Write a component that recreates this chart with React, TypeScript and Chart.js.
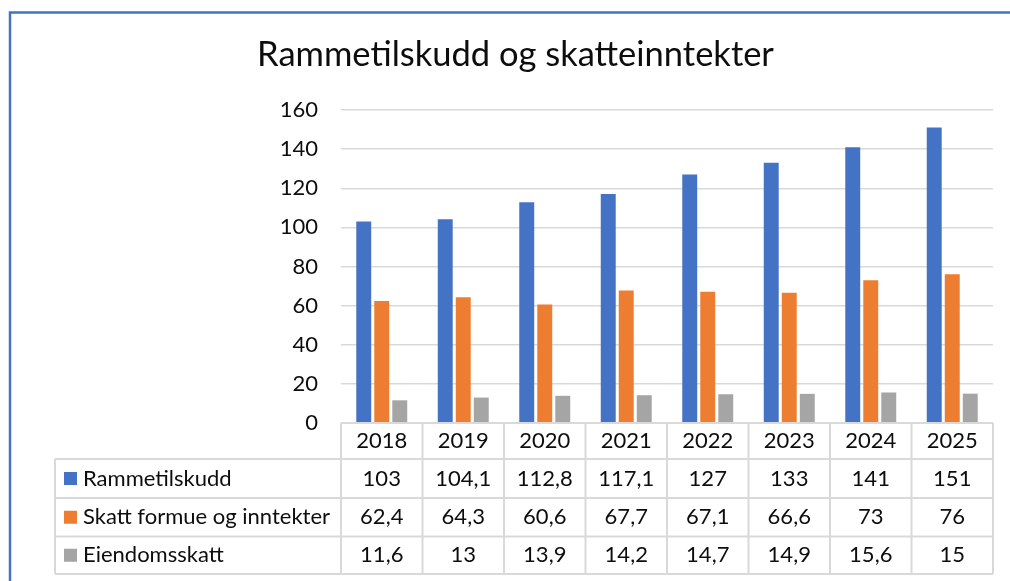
import { useEffect, useRef } from "react";
import { Chart, registerables } from "chart.js";

Chart.register(...registerables);

const years = ["2018", "2019", "2020", "2021", "2022", "2023", "2024", "2025"];
const rammetilskudd = [103, 104.1, 112.8, 117.1, 127, 133, 141, 151];
const skattFormue = [62.4, 64.3, 60.6, 67.7, 67.1, 66.6, 73, 76];
const eiendomsskatt = [11.6, 13, 13.9, 14.2, 14.7, 14.9, 15.6, 15];
const seriesNames = ["Rammetilskudd", "Skatt formue og inntekter", "Eiendomsskatt"];
const seriesColors = ["#4472C4", "#ED7D31", "#A5A5A5"];
const titleText = "Rammetilskudd og skatteinntekter";

const FONT = "Lato, 'Noto Sans', sans-serif";
const TEXT_COLOR = "#0d0d0d";
const LINE_COLOR = "#D9D9D9";

const fmt = (v: number) => String(v).replace(".", ",");

const tablePlugin = {
  id: "dataTable",
  afterDraw(chart: any) {
    const ctx = chart.ctx as CanvasRenderingContext2D;
    const xs = chart.scales.x;
    const area = chart.chartArea;
    const n = years.length;
    const step = (area.right - area.left) / n;
    const legendLeft = 55;
    const rowEdges = [area.bottom, area.bottom + 36, area.bottom + 75, area.bottom + 113.5, area.bottom + 151];
    const allSeries = [rammetilskudd, skattFormue, eiendomsskatt];

    ctx.save();
    ctx.strokeStyle = LINE_COLOR;
    ctx.lineWidth = 2;
    ctx.beginPath();
    ctx.moveTo(area.left, rowEdges[0]);
    ctx.lineTo(area.right, rowEdges[0]);
    for (let r = 1; r < rowEdges.length; r++) {
      ctx.moveTo(legendLeft, rowEdges[r]);
      ctx.lineTo(area.right, rowEdges[r]);
    }
    ctx.moveTo(legendLeft, rowEdges[1]);
    ctx.lineTo(legendLeft, rowEdges[4]);
    for (let i = 0; i <= n; i++) {
      const x = i < n ? xs.getPixelForValue(i) - step / 2 : xs.getPixelForValue(n - 1) + step / 2;
      ctx.moveTo(x, rowEdges[0]);
      ctx.lineTo(x, rowEdges[4]);
    }
    ctx.stroke();

    ctx.fillStyle = TEXT_COLOR;
    ctx.font = `22px ${FONT}`;
    ctx.textAlign = "center";
    ctx.textBaseline = "middle";
    const hdrY = (rowEdges[0] + rowEdges[1]) / 2;
    years.forEach((y, i) => {
      ctx.fillText(y, xs.getPixelForValue(i), hdrY);
    });
    allSeries.forEach((vals, s) => {
      const cy = (rowEdges[s + 1] + rowEdges[s + 2]) / 2;
      ctx.textAlign = "center";
      ctx.fillStyle = TEXT_COLOR;
      vals.forEach((v, i) => {
        ctx.fillText(fmt(v), xs.getPixelForValue(i), cy);
      });
      ctx.fillStyle = seriesColors[s];
      ctx.fillRect(64, cy - 6.5, 13, 13);
      ctx.fillStyle = TEXT_COLOR;
      ctx.textAlign = "left";
      ctx.fillText(seriesNames[s], 83, cy);
    });

    ctx.strokeStyle = "#4472C4";
    ctx.lineWidth = 2.5;
    ctx.beginPath();
    ctx.moveTo(10, chart.height);
    ctx.lineTo(10, 12.5);
    ctx.lineTo(chart.width, 12.5);
    ctx.stroke();
    ctx.restore();
  },
};

export default function App() {
  const ref = useRef<HTMLCanvasElement | null>(null);

  useEffect(() => {
    if (!ref.current) return;
    const chart = new Chart(ref.current, {
      type: "bar",
      data: {
        labels: years,
        datasets: [
          { label: seriesNames[0], data: rammetilskudd, backgroundColor: seriesColors[0] },
          { label: seriesNames[1], data: skattFormue, backgroundColor: seriesColors[1] },
          { label: seriesNames[2], data: eiendomsskatt, backgroundColor: seriesColors[2] },
        ],
      },
      options: {
        responsive: false,
        animation: false,
        layout: { padding: { left: 38, right: 17, top: 0, bottom: 0 } },
        datasets: {
          bar: { categoryPercentage: 0.663, barPercentage: 0.83 },
        },
        scales: {
          x: {
            grid: { display: false },
            border: { display: false },
            ticks: { display: false },
            afterFit(scale: any) {
              scale.height = 158;
            },
          },
          y: {
            min: 0,
            max: 160,
            ticks: {
              stepSize: 20,
              padding: 23,
              color: TEXT_COLOR,
              font: { family: FONT, size: 22 },
            },
            grid: { color: LINE_COLOR, lineWidth: 1.5, drawTicks: false },
            border: { display: false },
            afterFit(scale: any) {
              scale.width = 303;
            },
          },
        },
        plugins: {
          legend: { display: false },
          tooltip: { enabled: false },
          title: {
            display: true,
            text: titleText,
            color: TEXT_COLOR,
            font: { family: FONT, size: 34.5, weight: "normal" },
            padding: { top: 34.3, bottom: 34.3 },
          },
        },
      },
      plugins: [tablePlugin],
    });
    return () => chart.destroy();
  }, []);

  return (
    <div style={{ position: "fixed", left: 0, top: 0, width: 1010, height: 581, background: "#fff" }}>
      <canvas ref={ref} width={1010} height={581} />
    </div>
  );
}
